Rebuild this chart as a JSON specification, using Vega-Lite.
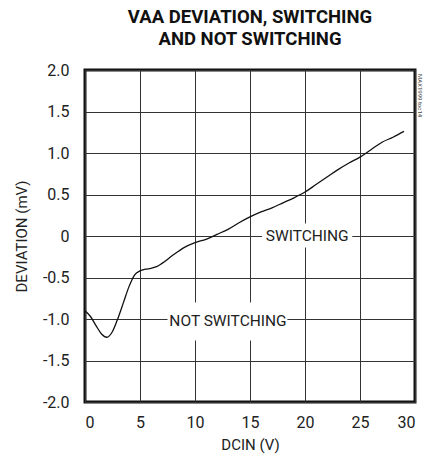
{
  "$schema": "https://vega.github.io/schema/vega-lite/v6.json",
  "width": 330,
  "height": 332,
  "autosize": {"type": "none"},
  "padding": {"left": 85, "top": 70, "right": 8, "bottom": 64},
  "background": "white",
  "title": {
    "text": ["VAA DEVIATION, SWITCHING", "AND NOT SWITCHING"],
    "font": "Roboto",
    "fontSize": 18.5,
    "fontWeight": "bold",
    "color": "#111",
    "lineHeight": 22,
    "anchor": "middle",
    "offset": 14
  },
  "config": {
    "view": {"stroke": "#111", "strokeWidth": 3},
    "font": "Roboto",
    "axis": {
      "labelFont": "Roboto",
      "titleFont": "Roboto",
      "labelFontSize": 16,
      "titleFontSize": 15,
      "labelColor": "#222",
      "titleColor": "#222",
      "titleFontWeight": "normal",
      "grid": true,
      "gridColor": "#333",
      "gridWidth": 1,
      "gridOpacity": 1,
      "ticks": false,
      "domain": false
    }
  },
  "datasets": {
    "curve": [
      {"dcin": 0, "dev": -0.9},
      {"dcin": 0.5, "dev": -0.97},
      {"dcin": 1, "dev": -1.08},
      {"dcin": 1.5, "dev": -1.18},
      {"dcin": 2, "dev": -1.22},
      {"dcin": 2.5, "dev": -1.15},
      {"dcin": 3, "dev": -0.99},
      {"dcin": 3.5, "dev": -0.8},
      {"dcin": 4, "dev": -0.61},
      {"dcin": 4.5, "dev": -0.47},
      {"dcin": 5, "dev": -0.42},
      {"dcin": 5.5, "dev": -0.4},
      {"dcin": 6, "dev": -0.39},
      {"dcin": 6.5, "dev": -0.37},
      {"dcin": 7, "dev": -0.33},
      {"dcin": 8, "dev": -0.23},
      {"dcin": 9, "dev": -0.14},
      {"dcin": 10, "dev": -0.08},
      {"dcin": 11, "dev": -0.04},
      {"dcin": 12, "dev": 0.02},
      {"dcin": 13, "dev": 0.08},
      {"dcin": 14, "dev": 0.16},
      {"dcin": 15, "dev": 0.23},
      {"dcin": 16, "dev": 0.29},
      {"dcin": 17, "dev": 0.34},
      {"dcin": 18, "dev": 0.4},
      {"dcin": 19, "dev": 0.46},
      {"dcin": 20, "dev": 0.53},
      {"dcin": 21, "dev": 0.62},
      {"dcin": 22, "dev": 0.71},
      {"dcin": 23, "dev": 0.8},
      {"dcin": 24, "dev": 0.88},
      {"dcin": 25, "dev": 0.95},
      {"dcin": 26, "dev": 1.04},
      {"dcin": 27, "dev": 1.13},
      {"dcin": 28, "dev": 1.19},
      {"dcin": 29, "dev": 1.26}
    ],
    "labels": [
      {"text": "SWITCHING", "x": 16.1, "x2": 24.3, "y": 0.15, "y2": -0.14, "tx": 20.2, "ty": 0},
      {"text": "NOT SWITCHING", "x": 7.5, "x2": 18.4, "y": -0.8, "y2": -1.26, "tx": 13.0, "ty": -1.03}
    ],
    "ident": [
      {"text": "MAX1999 toc14", "x": 30, "y": 2}
    ]
  },
  "layer": [
    {
      "data": {"name": "labels"},
      "mark": {"type": "rect", "fill": "white", "stroke": null},
      "encoding": {
        "x": {"field": "x", "type": "quantitative", "scale": {"domain": [0, 30]}},
        "x2": {"field": "x2"},
        "y": {"field": "y", "type": "quantitative", "scale": {"domain": [-2, 2]}},
        "y2": {"field": "y2"}
      }
    },
    {
      "data": {"name": "labels"},
      "mark": {"type": "text", "font": "Roboto", "fontSize": 15.5, "color": "#222", "align": "center", "baseline": "middle"},
      "encoding": {
        "x": {"field": "tx", "type": "quantitative"},
        "y": {"field": "ty", "type": "quantitative"},
        "text": {"field": "text"}
      }
    },
    {
      "data": {"name": "ident"},
      "mark": {"type": "text", "font": "Roboto", "fontSize": 6, "color": "#444", "angle": 90, "align": "left", "baseline": "middle", "dx": 4, "dy": -5},
      "encoding": {
        "x": {"field": "x", "type": "quantitative"},
        "y": {"field": "y", "type": "quantitative"},
        "text": {"field": "text"}
      }
    },
    {
      "data": {"name": "curve"},
      "mark": {"type": "line", "color": "#111", "strokeWidth": 1.3, "interpolate": "monotone"},
      "encoding": {
        "x": {
          "field": "dcin", "type": "quantitative",
          "scale": {"domain": [0, 30], "nice": false},
          "axis": {"values": [0, 5, 10, 15, 20, 25, 30], "title": "DCIN (V)", "labelPadding": 12, "titlePadding": 7}
        },
        "y": {
          "field": "dev", "type": "quantitative",
          "scale": {"domain": [-2, 2], "nice": false},
          "axis": {
            "values": [-2, -1.5, -1, -0.5, 0, 0.5, 1, 1.5, 2],
            "labelExpr": "datum.value == 0 ? '0' : (datum.value < 0 ? '-' : '') + format(abs(datum.value), '.1f')",
            "title": "DEVIATION (mV)",
            "labelPadding": 16,
            "titlePadding": 13
          }
        }
      }
    }
  ]
}
